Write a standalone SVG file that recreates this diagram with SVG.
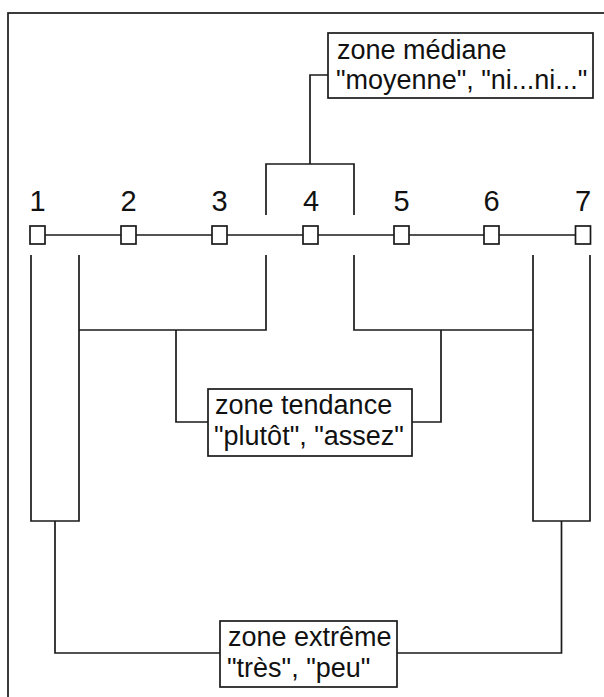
<svg xmlns="http://www.w3.org/2000/svg" width="604" height="697" viewBox="0 0 604 697">
<style>
.ln{fill:none;stroke:#1a1a1a;stroke-width:1.7}
.bx{fill:#fff;stroke:#1a1a1a;stroke-width:1.7}
.t{font-family:"Liberation Sans",Arial,sans-serif;font-size:27px;fill:#111}
.n{font-family:"Liberation Sans",Arial,sans-serif;font-size:29px;fill:#111;text-anchor:middle}
</style>
<rect x="0" y="0" width="604" height="697" fill="#fff"/>
<rect x="8" y="13" width="700" height="700" class="ln"/>
<g id="connectors">
<line x1="37.5" y1="235" x2="583" y2="235" class="ln"/>
<polyline points="266,215 266,164 354,164 354,215" class="ln"/>
<polyline points="310,164 310,75 328,75" class="ln"/>
<polyline points="266,255 266,330 79,330" class="ln"/>
<polyline points="354,255 354,330 533,330" class="ln"/>
<polyline points="176,330 176,422 208,422" class="ln"/>
<polyline points="441,330 441,422 412,422" class="ln"/>
<polyline points="31,255 31,521 79,521 79,255" class="ln"/>
<polyline points="533,255 533,521 590,521 590,255" class="ln"/>
<polyline points="55,521 55,653 220,653" class="ln"/>
<polyline points="561.5,521 561.5,653 397,653" class="ln"/>
</g>
<g id="scale">
<rect x="30" y="226" width="15" height="18" class="bx"/>
<rect x="121" y="226" width="15" height="18" class="bx"/>
<rect x="212" y="226" width="15" height="18" class="bx"/>
<rect x="303" y="226" width="15" height="18" class="bx"/>
<rect x="394" y="226" width="15" height="18" class="bx"/>
<rect x="484" y="226" width="15" height="18" class="bx"/>
<rect x="575.5" y="226" width="15" height="18" class="bx"/>
<text x="37.5" y="211" class="n">1</text>
<text x="128.5" y="211" class="n">2</text>
<text x="219.5" y="211" class="n">3</text>
<text x="311" y="211" class="n">4</text>
<text x="401.5" y="211" class="n">5</text>
<text x="491.5" y="211" class="n">6</text>
<text x="583" y="211" class="n">7</text>
</g>
<g id="zone-mediane">
<rect x="328" y="33" width="265" height="65" class="bx"/>
<text x="337" y="59" class="t">zone médiane</text>
<text x="336" y="89" class="t">"moyenne", "ni...ni..."</text>
</g>
<g id="zone-tendance">
<rect x="208" y="389" width="204" height="67" class="bx"/>
<text x="215" y="414" class="t">zone tendance</text>
<text x="214" y="445" class="t">"plutôt", "assez"</text>
</g>
<g id="zone-extreme">
<rect x="220" y="621" width="177" height="66" class="bx"/>
<text x="228" y="646" class="t">zone extrême</text>
<text x="227" y="677" class="t">"très", "peu"</text>
</g>
</svg>
